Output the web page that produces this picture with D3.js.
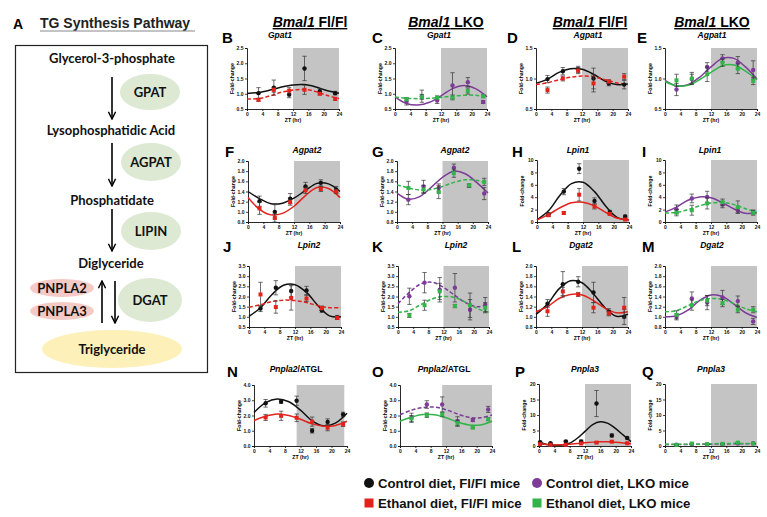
<!DOCTYPE html>
<html>
<head>
<meta charset="utf-8">
<script src="https://cdn.jsdelivr.net/npm/d3@7"></script>
<style>
  body { margin: 0; background: #fff; }
  svg { display: block; }
</style>
</head>
<body>
<div id="chart"></div>
<script>
const [WIDTH, HEIGHT] = [767, 517];

// sampling times (ZT, hours)
const ZT = [3, 7, 11, 15, 19, 23];
const ZT_P = [0.3, 3, 7, 11, 15, 19, 23];
const FIT_ZT = [0, 3, 6, 9, 12, 15, 18, 21, 24];
const FIT_ZT_P = [0, 2, 4, 6, 8, 10, 12, 14, 16, 18, 20, 22, 24];
const X_TICKS = [0, 4, 8, 12, 16, 20, 24];

const panelLetters = ['B', 'C', 'D', 'E', 'F', 'G', 'H', 'I', 'J', 'K', 'L', 'M', 'N', 'O', 'P', 'Q'];
const panelGenes = ['Gpat1', 'Gpat1', 'Agpat1', 'Agpat1', 'Agpat2', 'Agpat2', 'Lpin1', 'Lpin1',
    'Lpin2', 'Lpin2', 'Dgat2', 'Dgat2', 'Pnpla2', 'Pnpla2', 'Pnpla3', 'Pnpla3'];
const panelSuffix = ['', '', '', '', '', '', '', '', '', '', '', '', '/ATGL', '/ATGL', '', ''];
const panelGenotype = ['Fl', 'LKO', 'Fl', 'LKO', 'Fl', 'LKO', 'Fl', 'LKO',
    'Fl', 'LKO', 'Fl', 'LKO', 'Fl', 'LKO', 'Fl', 'LKO'];
const yTicksGpat = [0.5, 1.0, 1.5, 2.0, 2.5];
const yTicksAgpat1 = [0.5, 1.0, 1.5];
const yTicksAgpat2 = [0.8, 1.0, 1.2, 1.4, 1.6, 1.8, 2.0];
const yTicksLpin1 = [0, 2, 4, 6, 8, 10];
const yTicksLpin2 = [0.5, 1.0, 1.5, 2.0, 2.5, 3.0, 3.5];
const yTicksPnpla2 = [0, 1, 2, 3, 4];
const yTicksPnpla3 = [0, 5, 10, 15, 20];
// dark phase (grey shading), ZT
const darkPhase = [[12, 24], [12, 24], [12, 24], [12, 24], [12, 24], [12, 24], [12, 24], [12, 24],
    [12, 24], [12, 24], [12, 24], [12, 24], [11, 23.3], [11, 24], [12, 24], [12, 24]];
// line dash: [control, ethanol] 1 = dashed
const dashed = [[0, 1], [0, 1], [0, 1], [0, 0], [0, 0], [0, 1], [0, 0], [0, 1],
    [0, 1], [1, 1], [0, 0], [0, 1], [0, 0], [1, 0], [0, 0], [1, 1]];

// [mean, sem] per ZT
const B_ctrl = [[1.02, 0.18], [1.2, 0.25], [0.97, 0.1], [1.83, 0.4], [1.08, 0.08], [1.02, 0.06]];
const B_etoh = [[0.8, 0.05], [1.13, 0.08], [1.1, 0.1], [1.13, 0.15], [1.0, 0.04], [0.83, 0.05]];
const B_ctrlFit = [1.01, 1.04, 1.12, 1.22, 1.29, 1.3, 1.22, 1.1, 1.02];
const B_etohFit = [0.83, 0.84, 0.93, 1.05, 1.12, 1.14, 1.07, 0.94, 0.84];

const C_ctrl = [[0.73, 0.1], [0.92, 0.2], [0.78, 0.1], [1.27, 0.42], [1.38, 0.15], [0.73, 0.05]];
const C_etoh = [[0.82, 0.05], [0.9, 0.08], [0.87, 0.06], [0.88, 0.08], [1.09, 0.1], [0.92, 0.05]];
const C_ctrlFit = [0.9, 0.68, 0.63, 0.72, 0.93, 1.17, 1.27, 1.17, 0.9];
const C_etohFit = [0.89, 0.85, 0.84, 0.85, 0.88, 0.92, 0.95, 0.95, 0.9];

const D_ctrl = [[0.99, 0.06], [1.12, 0.06], [1.15, 0.05], [1.0, 0.17], [0.92, 0.04], [0.9, 0.07]];
const D_etoh = [[0.81, 0.05], [1.0, 0.04], [1.13, 0.05], [0.92, 0.14], [0.95, 0.03], [1.03, 0.05]];
const D_ctrlFit = [0.92, 0.99, 1.1, 1.16, 1.15, 1.07, 0.96, 0.9, 0.91];
const D_etohFit = [0.9, 0.93, 0.98, 1.02, 1.04, 1.03, 0.98, 0.93, 0.9];

const E_ctrl = [[0.82, 0.1], [0.99, 0.08], [1.19, 0.07], [1.33, 0.06], [1.26, 0.1], [1.14, 0.15]];
const E_etoh = [[0.97, 0.1], [1.0, 0.1], [1.07, 0.12], [1.26, 0.06], [1.16, 0.08], [0.96, 0.06]];
const E_ctrlFit = [0.97, 0.88, 0.9, 1.02, 1.19, 1.33, 1.33, 1.19, 0.99];
const E_etohFit = [0.95, 0.88, 0.89, 0.98, 1.1, 1.21, 1.22, 1.12, 0.98];

const F_ctrl = [[1.21, 0.1], [1.0, 0.14], [1.26, 0.1], [1.5, 0.08], [1.57, 0.06], [1.44, 0.06]];
const F_etoh = [[1.07, 0.12], [0.88, 0.08], [1.19, 0.06], [1.42, 0.06], [1.45, 0.05], [1.4, 0.04]];
const F_ctrlFit = [1.4, 1.26, 1.16, 1.17, 1.27, 1.42, 1.56, 1.55, 1.4];
const F_etohFit = [1.28, 1.05, 0.94, 0.97, 1.11, 1.32, 1.48, 1.46, 1.28];

const G_ctrl = [[1.24, 0.1], [1.5, 0.12], [1.47, 0.08], [1.87, 0.07], [1.51, 0.03], [1.36, 0.12]];
const G_etoh = [[1.47, 0.13], [1.44, 0.08], [1.39, 0.13], [1.76, 0.08], [1.52, 0.03], [1.59, 0.07]];
const G_ctrlFit = [1.37, 1.25, 1.3, 1.48, 1.68, 1.8, 1.75, 1.58, 1.37];
const G_etohFit = [1.53, 1.47, 1.43, 1.44, 1.5, 1.58, 1.63, 1.62, 1.55];

const H_ctrl = [[1.2, 0.3], [4.9, 0.5], [8.6, 0.8], [3.4, 0.5], [1.6, 0.3], [0.9, 0.2]];
const H_etoh = [[1.1, 0.2], [1.45, 0.2], [4.4, 1.0], [2.5, 0.4], [1.3, 0.2], [0.4, 0.1]];
const H_ctrlFit = [0.35, 1.8, 4.3, 6.2, 6.4, 4.9, 2.5, 0.7, 0.35];
const H_etohFit = [0.35, 1.2, 2.3, 3.1, 3.2, 2.6, 1.5, 0.6, 0.35];

const I_ctrl = [[2.05, 0.7], [3.8, 0.7], [4.05, 0.9], [2.8, 0.5], [1.85, 0.4], [1.6, 0.3]];
const I_etoh = [[1.5, 0.5], [1.9, 0.8], [3.0, 0.9], [3.2, 0.5], [2.4, 1.0], [1.5, 0.4]];
const I_ctrlFit = [1.6, 2.4, 3.5, 4.05, 3.9, 3.1, 2.1, 1.4, 1.5];
const I_etohFit = [1.45, 1.55, 2.0, 2.6, 3.05, 3.15, 2.8, 2.15, 1.55];

const J_ctrl = [[1.41, 0.15], [2.43, 0.35], [2.27, 0.3], [2.3, 0.2], [1.32, 0.1], [0.97, 0.1]];
const J_etoh = [[2.1, 0.6], [1.48, 0.3], [1.93, 0.6], [1.9, 0.15], [1.43, 0.1], [0.95, 0.05]];
const J_ctrlFit = [1.02, 1.45, 2.1, 2.55, 2.58, 2.2, 1.55, 1.05, 1.0];
const J_etohFit = [1.47, 1.6, 1.75, 1.82, 1.8, 1.7, 1.55, 1.45, 1.45];

const K_ctrl = [[2.01, 0.4], [2.68, 0.5], [2.33, 0.6], [2.43, 0.7], [1.35, 0.5], [1.6, 0.35]];
const K_etoh = [[1.07, 0.1], [1.57, 0.25], [2.25, 0.4], [1.53, 0.08], [1.57, 0.6], [1.45, 0.25]];
const K_ctrlFit = [1.65, 2.2, 2.62, 2.7, 2.45, 2.05, 1.68, 1.5, 1.62];
const K_etohFit = [1.22, 1.3, 1.6, 1.88, 2.0, 1.95, 1.7, 1.4, 1.22];

const L_ctrl = [[1.26, 0.08], [1.64, 0.25], [1.69, 0.1], [1.48, 0.2], [1.1, 0.06], [1.0, 0.15]];
const L_etoh = [[1.11, 0.1], [1.5, 0.08], [1.44, 0.04], [1.18, 0.1], [1.07, 0.05], [1.18, 0.2]];
const L_ctrlFit = [1.05, 1.25, 1.55, 1.71, 1.67, 1.45, 1.18, 1.01, 1.05];
const L_etohFit = [1.1, 1.2, 1.36, 1.44, 1.43, 1.32, 1.17, 1.08, 1.1];

const M_ctrl = [[1.0, 0.06], [1.36, 0.13], [1.28, 0.14], [1.38, 0.14], [1.31, 0.1], [0.91, 0.06]];
const M_etoh = [[1.04, 0.08], [1.23, 0.1], [1.32, 0.1], [1.27, 0.07], [1.14, 0.06], [1.14, 0.06]];
const M_ctrlFit = [1.0, 1.02, 1.13, 1.32, 1.43, 1.4, 1.25, 1.08, 0.99];
const M_etohFit = [1.1, 1.12, 1.22, 1.32, 1.36, 1.34, 1.26, 1.16, 1.1];

const N_ctrl = [[2.8, 0.25], [2.9, 0.1], [2.97, 0.3], [1.0, 0.15], [1.58, 0.2], [2.07, 0.15]];
const N_etoh = [[1.87, 0.2], [1.98, 0.3], [1.85, 0.25], [1.6, 0.3], [1.2, 0.2], [1.43, 0.15]];
const N_ctrlFit = [2.2, 2.85, 3.08, 2.9, 2.35, 1.65, 1.32, 1.5, 2.15];
const N_etohFit = [1.67, 1.95, 2.1, 2.0, 1.75, 1.45, 1.3, 1.35, 1.62];

const O_ctrl = [[1.85, 0.3], [2.72, 0.25], [2.72, 0.5], [1.62, 0.3], [1.7, 0.1], [2.4, 0.2]];
const O_etoh = [[1.8, 0.2], [2.02, 0.15], [2.07, 0.15], [1.5, 0.2], [1.2, 0.05], [1.76, 0.1]];
const O_ctrlFit = [2.05, 2.35, 2.52, 2.55, 2.38, 2.1, 1.88, 1.85, 2.03];
const O_etohFit = [1.62, 1.9, 2.07, 2.05, 1.85, 1.58, 1.38, 1.38, 1.62];

const P_ctrl = [[1.2, 0.3], [0.9, 0.2], [1.5, 0.3], [1.5, 0.4], [13.7, 4.2], [3.4, 0.5], [2.6, 0.3]];
const P_etoh = [[0.6, 0.1], [0.4, 0.1], [0.4, 0.1], [0.8, 0.1], [1.1, 0.2], [1.4, 0.2], [0.9, 0.1]];
const P_ctrlFit = [1.2, 0.5, 0.25, 0.3, 0.9, 2.5, 4.7, 6.9, 7.8, 7.3, 5.6, 3.5, 1.4];
const P_etohFit = [0.7, 0.5, 0.35, 0.4, 0.55, 0.8, 1.05, 1.25, 1.35, 1.35, 1.2, 1.0, 0.75];

const Q_ctrl = [[0.4, 0.1], [0.6, 0.1], [0.5, 0.1], [0.6, 0.1], [0.8, 0.1], [0.9, 0.1]];
const Q_etoh = [[0.3, 0.1], [0.8, 0.1], [0.6, 0.1], [0.7, 0.1], [1.1, 0.2], [0.8, 0.1]];
const Q_ctrlFit = [0.5, 0.5, 0.5, 0.55, 0.6, 0.65, 0.7, 0.7, 0.65];
const Q_etohFit = [0.6, 0.55, 0.55, 0.6, 0.7, 0.8, 0.85, 0.8, 0.7];

const legendLabels = ['Control diet, Fl/Fl mice', 'Control diet, LKO mice',
    'Ethanol diet, Fl/Fl mice', 'Ethanol diet, LKO mice'];

const COLORS = {
    Fl: { ctrl: '#111111', etoh: '#e4221c' },
    LKO: { ctrl: '#7d3c98', etoh: '#33b44a' },
};

// panel boxes: [x0, x1, yTop, yBottom]
const BOX = {
    B: [247, 339, 48, 109], C: [395, 487, 48, 109], D: [536, 628, 48, 109], E: [665, 757, 48, 109],
    F: [248, 340, 161, 222], G: [397, 488, 161, 222], H: [537, 629, 160, 222], I: [665, 757, 160, 222],
    J: [249, 341, 266, 327], K: [398, 489, 266, 327], L: [536, 628, 266, 327], M: [665, 757, 266, 327],
    N: [254, 347, 385, 446], O: [400, 492, 385, 446], P: [539, 631, 384, 446], Q: [665, 757, 384, 446],
};
// letter [x, baseline], title [centre x, baseline]
const LETTER_POS = {
    B: [222, 43], C: [372, 43], D: [507, 43], E: [637, 43],
    F: [225, 157], G: [372, 157], H: [512, 157], I: [642, 157],
    J: [223, 252], K: [372, 252], L: [512, 252], M: [642, 252],
    N: [227, 377], O: [372, 377], P: [515, 377], Q: [642, 377],
};
const TITLE_POS = {
    B: [280, 38], C: [439, 38], D: [588, 38], E: [712, 38],
    F: [307, 153], G: [455, 153], H: [578, 153], I: [710, 153],
    J: [309, 248], K: [456, 248], L: [581, 248], M: [712, 248],
    N: [296, 372], O: [444, 372], P: [585, 372], Q: [711, 372],
};

const PANEL_DATA = {
    B: [B_ctrl, B_etoh, B_ctrlFit, B_etohFit, yTicksGpat],
    C: [C_ctrl, C_etoh, C_ctrlFit, C_etohFit, yTicksGpat],
    D: [D_ctrl, D_etoh, D_ctrlFit, D_etohFit, yTicksAgpat1],
    E: [E_ctrl, E_etoh, E_ctrlFit, E_etohFit, yTicksAgpat1],
    F: [F_ctrl, F_etoh, F_ctrlFit, F_etohFit, yTicksAgpat2],
    G: [G_ctrl, G_etoh, G_ctrlFit, G_etohFit, yTicksAgpat2],
    H: [H_ctrl, H_etoh, H_ctrlFit, H_etohFit, yTicksLpin1],
    I: [I_ctrl, I_etoh, I_ctrlFit, I_etohFit, yTicksLpin1],
    J: [J_ctrl, J_etoh, J_ctrlFit, J_etohFit, yTicksLpin2],
    K: [K_ctrl, K_etoh, K_ctrlFit, K_etohFit, yTicksLpin2],
    L: [L_ctrl, L_etoh, L_ctrlFit, L_etohFit, yTicksAgpat2],
    M: [M_ctrl, M_etoh, M_ctrlFit, M_etohFit, yTicksAgpat2],
    N: [N_ctrl, N_etoh, N_ctrlFit, N_etohFit, yTicksPnpla2],
    O: [O_ctrl, O_etoh, O_ctrlFit, O_etohFit, yTicksPnpla2],
    P: [P_ctrl, P_etoh, P_ctrlFit, P_etohFit, yTicksPnpla3],
    Q: [Q_ctrl, Q_etoh, Q_ctrlFit, Q_etohFit, yTicksPnpla3],
};

const FONT = "'Liberation Sans', Arial, sans-serif";
const FONT_A = "Lato, 'Liberation Sans', sans-serif";

const svg = d3.select('#chart').append('svg')
    .attr('width', WIDTH)
    .attr('height', HEIGHT)
    .attr('viewBox', `0 0 ${WIDTH} ${HEIGHT}`);

svg.append('rect').attr('width', WIDTH).attr('height', HEIGHT).attr('fill', '#fff');

svg.append('defs').append('marker')
    .attr('id', 'arrowhead')
    .attr('viewBox', '0 0 10 10')
    .attr('refX', 9).attr('refY', 5)
    .attr('markerWidth', 9).attr('markerHeight', 9)
    .attr('markerUnits', 'userSpaceOnUse')
    .attr('orient', 'auto')
    .append('path')
    .attr('d', 'M1,1 L9,5 L1,9')
    .attr('fill', 'none')
    .attr('stroke', 'black')
    .attr('stroke-width', 1.6);

renderPathway(svg);
panelLetters.forEach((letter, i) => renderPanel(svg, letter, i));
renderHeaders(svg);
renderLegend(svg);

function renderPathway(canvas) {
    const g = canvas.append('g').attr('class', 'pathway');

    g.append('text').attr('x', 13).attr('y', 29)
        .attr('font-family', FONT).attr('font-weight', 'bold').attr('font-size', 14)
        .text('A');
    g.append('text').attr('x', 40).attr('y', 28)
        .attr('font-family', FONT).attr('font-weight', 'bold').attr('font-size', 14)
        .attr('fill', '#222')
        .text('TG Synthesis Pathway');
    g.append('line').attr('x1', 40).attr('x2', 195).attr('y1', 31).attr('y2', 31)
        .attr('stroke', '#888').attr('stroke-width', 1);

    g.append('rect').attr('x', 15.5).attr('y', 45.5).attr('width', 192).attr('height', 327)
        .attr('fill', 'none').attr('stroke', '#222').attr('stroke-width', 1.2);

    const ellipses = [
        [150, 92, 30, 18, '#dde9d3', 'GPAT'],
        [151, 162, 30, 19, '#dde9d3', 'AGPAT'],
        [151, 231, 30, 19, '#dde9d3', 'LIPIN'],
        [150, 300, 32, 22, '#dde9d3', 'DGAT'],
        [62, 288, 32, 9, '#f5c9c4', 'PNPLA2'],
        [62, 311, 32, 9, '#f5c9c4', 'PNPLA3'],
        [112, 349, 70, 19, '#fdf0b8', 'Triglyceride'],
    ];
    g.selectAll('ellipse').data(ellipses).enter().append('ellipse')
        .attr('cx', (d) => d[0]).attr('cy', (d) => d[1])
        .attr('rx', (d) => d[2]).attr('ry', (d) => d[3])
        .attr('fill', (d) => d[4]);
    g.selectAll('.elabel').data(ellipses).enter().append('text')
        .attr('class', 'elabel')
        .attr('x', (d) => d[0]).attr('y', (d) => d[1])
        .attr('dy', '0.36em')
        .attr('text-anchor', 'middle')
        .attr('font-family', FONT_A).attr('font-weight', 'bold').attr('font-size', 13)
        .attr('fill', '#111')
        .text((d) => d[5]);

    const steps = [
        [112, 58, 'Glycerol-3-phosphate'],
        [111, 130, 'Lysophosphatidic Acid'],
        [112, 200, 'Phosphatidate'],
        [111, 263, 'Diglyceride'],
    ];
    g.selectAll('.step').data(steps).enter().append('text')
        .attr('class', 'step')
        .attr('x', (d) => d[0]).attr('y', (d) => d[1])
        .attr('dy', '0.36em')
        .attr('text-anchor', 'middle')
        .attr('font-family', FONT_A).attr('font-weight', 'bold').attr('font-size', 13)
        .attr('fill', '#111')
        .text((d) => d[2]);

    const arrows = [
        [112, 77, 112, 119],
        [112, 143, 112, 186],
        [112, 209, 112, 251],
        [115, 281, 115, 323],
        [102, 323, 102, 281],
    ];
    g.selectAll('.arrow').data(arrows).enter().append('line')
        .attr('class', 'arrow')
        .attr('x1', (d) => d[0]).attr('y1', (d) => d[1])
        .attr('x2', (d) => d[2]).attr('y2', (d) => d[3])
        .attr('stroke', 'black').attr('stroke-width', 1.6)
        .attr('marker-end', 'url(#arrowhead)');
}

function renderPanel(canvas, letter, i) {
    const [x0, x1, y0, y1] = BOX[letter];
    const [ctrl, etoh, ctrlFit, etohFit, yTicks] = PANEL_DATA[letter];
    const colors = COLORS[panelGenotype[i]];
    const zt = letter === 'P' ? ZT_P : ZT;
    const fitZt = letter === 'P' ? FIT_ZT_P : FIT_ZT;

    const x = d3.scaleLinear().domain([0, 24]).range([x0, x1]);
    const y = d3.scaleLinear().domain(d3.extent(yTicks)).range([y1, y0]);

    const g = canvas.append('g').attr('class', 'panel');

    // letter + title
    const [lx, ly] = LETTER_POS[letter];
    g.append('text').attr('x', lx).attr('y', ly)
        .attr('font-family', FONT).attr('font-weight', 'bold').attr('font-size', 15)
        .text(letter);
    const [tx, ty] = TITLE_POS[letter];
    const title = g.append('text').attr('x', tx).attr('y', ty)
        .attr('text-anchor', 'middle')
        .attr('font-family', FONT).attr('font-weight', 'bold').attr('font-size', 8.5);
    title.append('tspan').attr('font-style', 'italic').text(panelGenes[i]);
    if (panelSuffix[i]) title.append('tspan').text(panelSuffix[i]);

    // dark phase
    const [d0, d1] = darkPhase[i];
    g.append('rect')
        .attr('x', x(d0)).attr('width', x(d1) - x(d0))
        .attr('y', y0).attr('height', y1 - y0)
        .attr('fill', '#c4c4c4');

    // axes
    const fmt = yTicks[yTicks.length - 1] >= 5 ? d3.format('d') : d3.format('.1f');
    g.append('g')
        .attr('transform', `translate(${x0},0)`)
        .call(d3.axisLeft(y).tickValues(yTicks).tickSize(2).tickPadding(1.5).tickFormat(fmt))
        .call(styleAxis);
    g.append('g')
        .attr('transform', `translate(0,${y1})`)
        .call(d3.axisBottom(x).tickValues(X_TICKS).tickSize(2).tickPadding(1.5))
        .call(styleAxis);

    g.append('text')
        .attr('transform', `translate(${x0 - 13},${(y0 + y1) / 2}) rotate(-90)`)
        .attr('text-anchor', 'middle')
        .attr('font-family', FONT).attr('font-weight', 'bold').attr('font-size', 5.2)
        .text('Fold-change');
    g.append('text')
        .attr('x', (x0 + x1) / 2).attr('y', y1 + 13)
        .attr('text-anchor', 'middle')
        .attr('font-family', FONT).attr('font-weight', 'bold').attr('font-size', 5.2)
        .text('ZT (hr)');

    // fitted curves
    const line = d3.line()
        .x((d) => x(d[0]))
        .y((d) => y(d[1]))
        .curve(d3.curveCatmullRom.alpha(0.5));
    const fits = [
        [ctrlFit, colors.ctrl, dashed[i][0]],
        [etohFit, colors.etoh, dashed[i][1]],
    ];
    fits.forEach(([vals, color, dash]) => {
        g.append('path')
            .datum(vals.map((v, k) => [fitZt[k], v]))
            .attr('d', line)
            .attr('fill', 'none')
            .attr('stroke', color)
            .attr('stroke-width', 1.5)
            .attr('stroke-dasharray', dash ? '4,2.2' : null);
    });

    // points + error bars
    const series = [[ctrl, colors.ctrl, 'circle'], [etoh, colors.etoh, 'square']];
    series.forEach(([vals, color, shape]) => {
        const pts = vals.map((v, k) => ({ t: zt[k], m: v[0], e: v[1] }));
        const eb = g.append('g').attr('stroke', '#333').attr('stroke-width', 0.7);
        eb.selectAll('.bar').data(pts).enter().append('line')
            .attr('x1', (d) => x(d.t)).attr('x2', (d) => x(d.t))
            .attr('y1', (d) => y(d.m - d.e)).attr('y2', (d) => y(d.m + d.e));
        eb.selectAll('.capTop').data(pts).enter().append('line')
            .attr('x1', (d) => x(d.t) - 2.2).attr('x2', (d) => x(d.t) + 2.2)
            .attr('y1', (d) => y(d.m + d.e)).attr('y2', (d) => y(d.m + d.e));
        eb.selectAll('.capBot').data(pts).enter().append('line')
            .attr('x1', (d) => x(d.t) - 2.2).attr('x2', (d) => x(d.t) + 2.2)
            .attr('y1', (d) => y(d.m - d.e)).attr('y2', (d) => y(d.m - d.e));

        if (shape === 'circle') {
            g.selectAll(null).data(pts).enter().append('circle')
                .attr('cx', (d) => x(d.t)).attr('cy', (d) => y(d.m))
                .attr('r', 2.2).attr('fill', color);
        } else {
            g.selectAll(null).data(pts).enter().append('rect')
                .attr('x', (d) => x(d.t) - 2).attr('y', (d) => y(d.m) - 2)
                .attr('width', 4).attr('height', 4).attr('fill', color);
        }
    });
}

function styleAxis(axis) {
    axis.select('.domain').attr('stroke', '#111').attr('stroke-width', 0.9);
    axis.selectAll('.tick line').attr('stroke', '#111').attr('stroke-width', 0.8);
    axis.selectAll('.tick text')
        .attr('font-family', FONT).attr('font-weight', 'bold').attr('font-size', 5)
        .attr('fill', '#111');
}

function renderHeaders(canvas) {
    const headers = [[310, 'Fl/Fl'], [446, 'LKO'], [590, 'Fl/Fl'], [712, 'LKO']];
    headers.forEach(([cx, suffix]) => {
        const t = canvas.append('text')
            .attr('x', cx).attr('y', 27)
            .attr('text-anchor', 'middle')
            .attr('font-family', FONT).attr('font-weight', 'bold').attr('font-size', 14)
            .attr('text-decoration', 'underline');
        t.append('tspan').attr('font-style', 'italic').text('Bmal1');
        t.append('tspan').text(' ' + suffix);
    });
}

function renderLegend(canvas) {
    const items = [
        [369, 483, '#111111', 'circle'],
        [537, 483, '#7d3c98', 'circle'],
        [369, 503, '#e4221c', 'square'],
        [537, 503, '#33b44a', 'square'],
    ];
    const g = canvas.append('g').attr('class', 'legend');
    items.forEach(([cx, cy, color, shape], k) => {
        if (shape === 'circle') {
            g.append('circle').attr('cx', cx).attr('cy', cy).attr('r', 5).attr('fill', color);
        } else {
            g.append('rect').attr('x', cx - 4.5).attr('y', cy - 4.5)
                .attr('width', 9).attr('height', 9).attr('fill', color);
        }
        g.append('text')
            .attr('x', cx + 9).attr('y', cy).attr('dy', '0.36em')
            .attr('font-family', FONT).attr('font-weight', 'bold').attr('font-size', 13.2)
            .attr('fill', '#111')
            .text(legendLabels[k]);
    });
}
</script>
</body>
</html>
